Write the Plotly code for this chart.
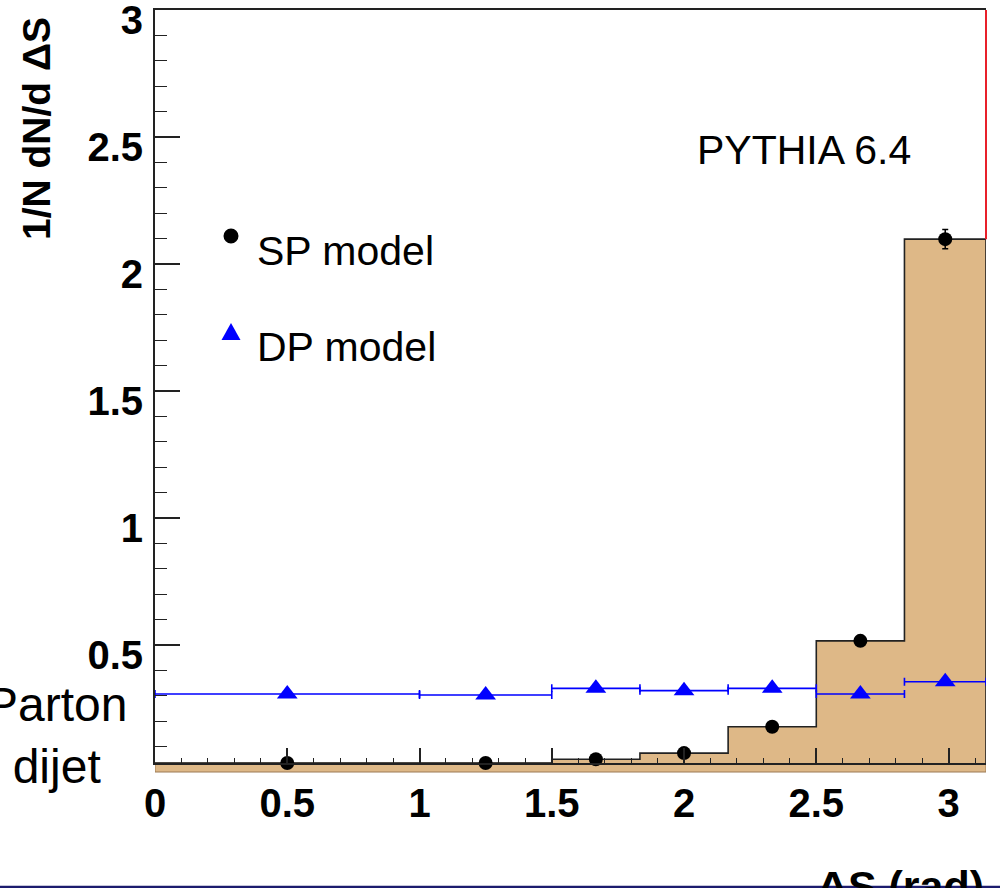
import math
import plotly.graph_objects as go

# ---------------- data ----------------
bin_edges = [0.0, 1.0, 1.5, 1.8333, 2.1667, 2.5, 2.8333, math.pi]
sp_values = [0.035, 0.035, 0.050, 0.074, 0.178, 0.516, 2.098]
sp_errors = [0.004, 0.004, 0.005, 0.006, 0.009, 0.015, 0.038]
dp_values = [0.307, 0.303, 0.329, 0.320, 0.329, 0.307, 0.355]
dp_errors = [0.004, 0.004, 0.005, 0.005, 0.005, 0.005, 0.006]
x_tick_vals = [0, 0.5, 1, 1.5, 2, 2.5, 3]
y_tick_vals = [0.5, 1, 1.5, 2, 2.5, 3]
y_range = [0.035, 3.0005]

centers = [(a + b) / 2 for a, b in zip(bin_edges[:-1], bin_edges[1:])]
half_w = [(b - a) / 2 for a, b in zip(bin_edges[:-1], bin_edges[1:])]

TAN = "#DEB887"
FONT = "Liberation Sans, Arial, sans-serif"

fig = go.Figure()

# filled SP histogram (step outline)
step_x = [bin_edges[0]] + bin_edges + [bin_edges[-1]]
step_y = [0] + sp_values + [sp_values[-1], 0]
fig.add_trace(go.Scatter(
    x=step_x, y=step_y, mode="lines", line=dict(shape="hv", color="#222", width=1.6),
    fill="tozeroy", fillcolor=TAN, hoverinfo="skip", showlegend=False))

# DP model: points with horizontal bin-width bars (E1 style)
fig.add_trace(go.Scatter(
    x=centers, y=dp_values, mode="markers",
    marker=dict(symbol="triangle-up", size=18, color="#0000ff"),
    error_x=dict(type="data", array=half_w, color="#0000ff", thickness=1.6, width=4),
    error_y=dict(type="data", array=dp_errors, color="#0000ff", thickness=1.6, width=0),
    cliponaxis=False, showlegend=False))

# SP model points
fig.add_trace(go.Scatter(
    x=centers, y=sp_values, mode="markers",
    marker=dict(symbol="circle", size=14, color="#000"),
    error_y=dict(type="data", array=sp_errors, color="#000", thickness=1.5, width=3),
    cliponaxis=False, showlegend=False))

plot_h = 753.0
plot_w = 831.0

shapes = [
    # fill below frame bottom
    dict(type="rect", xref="x", yref="paper", x0=bin_edges[0], x1=bin_edges[-1],
         y0=-9 / plot_h, y1=0, fillcolor=TAN, line=dict(color="#9c7a55", width=1), layer="below"),
    # red right edge above last bin
    dict(type="line", xref="x domain", yref="y", x0=1, x1=1, y0=sp_values[-1], y1=y_range[1],
         line=dict(color="#e8202a", width=2)),
    # navy line at the bottom of the page
    dict(type="line", xref="paper", yref="paper", x0=-0.3, x1=1.2,
         y0=-124 / plot_h, y1=-124 / plot_h, line=dict(color="#1c1c6e", width=2.5)),
    # legend symbols
    dict(type="circle", xref="paper", yref="paper", xsizemode="pixel", ysizemode="pixel",
         xanchor=76 / plot_w, yanchor=527 / plot_h, x0=-7.5, x1=7.5, y0=-7.5, y1=7.5,
         fillcolor="#000", line=dict(width=0)),
    dict(type="path", xref="paper", yref="paper", xsizemode="pixel", ysizemode="pixel",
         xanchor=76 / plot_w, yanchor=431 / plot_h, path="M -9.5 -8 L 9.5 -8 L 0 9 Z",
         fillcolor="#0000ff", line=dict(width=0)),
]

annotations = [
    dict(text="<b>1/N dN/d ΔS</b>", textangle=-90, xref="paper", yref="paper",
         x=(37 - 155) / plot_w, y=(763 - 128) / plot_h, xanchor="center", yanchor="middle",
         showarrow=False, font=dict(family=FONT, size=39, color="#000")),
    dict(text="PYTHIA 6.4", xref="paper", yref="paper",
         x=(804 - 155) / plot_w, y=(763 - 150) / plot_h, xanchor="center", yanchor="middle",
         showarrow=False, font=dict(family=FONT, size=41, color="#000")),
    dict(text="SP model", xref="paper", yref="paper",
         x=(255 - 155) / plot_w, y=(763 - 251) / plot_h, xanchor="left", yanchor="middle",
         showarrow=False, font=dict(family=FONT, size=41, color="#000")),
    dict(text="DP model", xref="paper", yref="paper",
         x=(255 - 155) / plot_w, y=(763 - 347) / plot_h, xanchor="left", yanchor="middle",
         showarrow=False, font=dict(family=FONT, size=41, color="#000")),
    dict(text="Parton<br>dijet", xref="paper", yref="paper", align="center",
         x=(56 - 155) / plot_w, y=(763 - 735) / plot_h, xanchor="center", yanchor="middle",
         showarrow=False, font=dict(family=FONT, size=48, color="#000")),
    dict(text="<b>ΔS (rad)</b>", xref="paper", yref="paper",
         x=(986 - 155) / plot_w, y=(763 - 860) / plot_h, xanchor="right", yanchor="top",
         showarrow=False, font=dict(family=FONT, size=43, color="#000")),
]

fig.update_layout(
    width=1000, height=888,
    margin=dict(l=155, r=14, t=10, b=125),
    paper_bgcolor="white", plot_bgcolor="white",
    showlegend=False,
    shapes=shapes, annotations=annotations,
    xaxis=dict(
        range=[bin_edges[0], bin_edges[-1]], tickvals=x_tick_vals, automargin=False,
        ticks="inside", ticklen=15, tickwidth=1.5, tickcolor="#222",
        minor=dict(dtick=0.1, ticks="inside", ticklen=5, tickwidth=1.2, tickcolor="#222"),
        showline=True, linecolor="#222", linewidth=2, mirror=True,
        showgrid=False, zeroline=False, ticklabelstandoff=4, ticklabeloverflow="allow",
        tickfont=dict(family=FONT, size=40, color="#000", weight="bold")),
    yaxis=dict(
        range=y_range, tickvals=y_tick_vals, ticktext=[str(v) for v in y_tick_vals],
        automargin=False, ticklabeloverflow="allow",
        ticks="inside", ticklen=25, tickwidth=1.5, tickcolor="#222",
        minor=dict(tick0=0, dtick=0.1, ticks="inside", ticklen=12, tickwidth=1.2, tickcolor="#222"),
        showline=True, linecolor="#222", linewidth=2,
        showgrid=False, zeroline=False, ticklabelstandoff=2, ticklabelshift=10,
        tickfont=dict(family=FONT, size=40, color="#000", weight="bold")),
)

fig.write_html("out.html")
